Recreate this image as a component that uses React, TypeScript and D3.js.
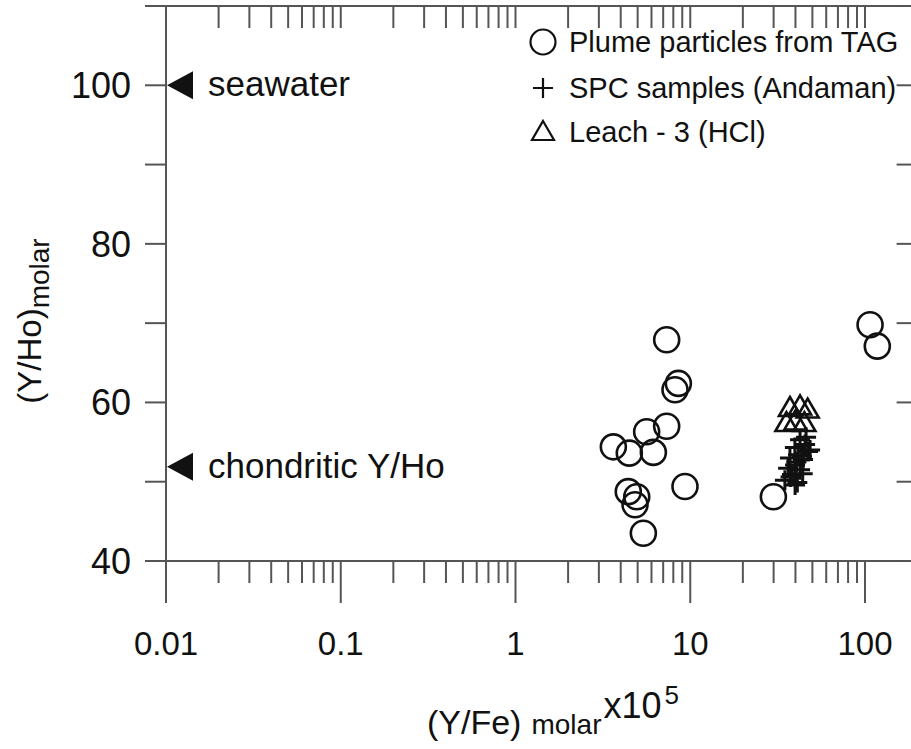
import { useEffect, useRef } from "react";
import * as d3 from "d3";

// Plume particles from TAG (open circles)
const plumeYFe = [7.33, 8.55, 8.18, 7.33, 5.63, 3.63, 4.48, 6.15, 9.33, 4.42, 4.94, 4.83, 5.39, 29.9, 106.9, 117.6];
const plumeYHo = [67.9, 62.4, 61.6, 57.0, 56.3, 54.4, 53.6, 53.7, 49.4, 48.75, 48.1, 47.1, 43.5, 48.1, 69.8, 67.1];

// SPC samples (Andaman) (crosses)
const spcYFe = [42.5, 45.4, 39.7, 47.2, 41.4, 37.2, 44.2, 39.8, 36.3, 42.5, 38.2, 34.8, 39.8, 48.5, 46.0, 43.5, 40.5, 44.0, 37.5, 41.0];
const spcYHo = [55.3, 54.7, 54.3, 53.8, 53.4, 53.0, 52.8, 52.1, 51.7, 51.5, 50.9, 50.2, 49.6, 54.0, 55.6, 53.2, 52.5, 51.0, 50.6, 49.9];

// Leach - 3 (HCl) (open triangles)
const leachYFe = [37.2, 42.5, 47.0, 35.5, 40.0, 45.0];
const leachYHo = [59.3, 59.5, 59.1, 57.4, 57.6, 57.4];

// reference markers on the y axis
const refLabels = ["seawater", "chondritic Y/Ho"];
const refValues = [100, 51.9];

const xTickLabels = ["0.01", "0.1", "1", "10", "100"];
const yTickLabels = ["40", "60", "80", "100"];
const yTickValues = [40, 50, 60, 70, 80, 90, 100, 110];

const legendLabels = ["Plume particles from TAG", "SPC samples (Andaman)", "Leach - 3 (HCl)"];

const FONT = "'Liberation Sans', Arial, Helvetica, sans-serif";
const INK = "#111";
const AXIS = "#555";

const App = () => {
  const ref = useRef<SVGSVGElement | null>(null);
  const width = 911;
  const height = 749;

  useEffect(() => {
    const svg = d3.select(ref.current);
    svg.selectAll("*").remove();

    const left = 166;
    const top = 6;
    const bottom = 561;
    const decade = 174.75;
    const right = left + decade * Math.log10(200 / 0.01);

    const x = d3.scaleLog().domain([0.01, 200]).range([left, right]);
    const y = d3.scaleLinear().domain([40, 110]).range([bottom, top]);

    const g = svg.append("g");

    // frame
    g.append("line").attr("x1", 145).attr("x2", right).attr("y1", top).attr("y2", top);
    g.append("line").attr("x1", 145).attr("x2", right).attr("y1", bottom).attr("y2", bottom);
    g.append("line").attr("x1", left).attr("x2", left).attr("y1", top).attr("y2", bottom);
    g.append("line").attr("x1", right).attr("x2", right).attr("y1", top).attr("y2", bottom);

    // x ticks
    const xt = x.ticks();
    const isMajor = (v: number) => Math.abs(Math.log10(v) - Math.round(Math.log10(v))) < 1e-6;

    g.selectAll("topTicks")
      .data(xt)
      .enter()
      .append("line")
      .attr("x1", (d) => x(d))
      .attr("x2", (d) => x(d))
      .attr("y1", top)
      .attr("y2", top + 22);

    g.selectAll("bottomTicks")
      .data(xt)
      .enter()
      .append("line")
      .attr("x1", (d) => x(d))
      .attr("x2", (d) => x(d))
      .attr("y1", bottom)
      .attr("y2", (d) => (isMajor(d) ? bottom + 42 : bottom + 22));

    // y ticks
    g.selectAll("leftTicks")
      .data(yTickValues)
      .enter()
      .append("line")
      .attr("x1", left - 21)
      .attr("x2", left)
      .attr("y1", (d) => y(d))
      .attr("y2", (d) => y(d));

    g.selectAll("rightTicks")
      .data(yTickValues)
      .enter()
      .append("line")
      .attr("x1", right - 21)
      .attr("x2", right)
      .attr("y1", (d) => y(d))
      .attr("y2", (d) => y(d));

    g.selectAll("line").attr("stroke", AXIS).attr("stroke-width", 2);

    // tick labels
    svg
      .selectAll("xLabels")
      .data(xTickLabels)
      .enter()
      .append("text")
      .attr("x", (d) => x(+d))
      .attr("y", 655)
      .attr("text-anchor", "middle")
      .style("font-family", FONT)
      .style("font-size", "33px")
      .attr("fill", INK)
      .text((d) => d);

    svg
      .selectAll("yLabels")
      .data(yTickLabels)
      .enter()
      .append("text")
      .attr("x", 131)
      .attr("y", (d) => y(+d) + 13)
      .attr("text-anchor", "end")
      .style("font-family", FONT)
      .style("font-size", "36px")
      .attr("fill", INK)
      .text((d) => d);

    // axis titles
    const xTitle = svg
      .append("text")
      .attr("x", 427)
      .attr("y", 734)
      .style("font-family", FONT)
      .attr("fill", INK);
    xTitle.append("tspan").style("font-size", "34px").text("(Y/Fe)");
    xTitle.append("tspan").attr("dx", 10).style("font-size", "28px").text("molar");
    xTitle.append("tspan").attr("y", 718).attr("dx", 2).style("font-size", "36px").text("x10");
    xTitle.append("tspan").attr("y", 704).attr("dx", 3).style("font-size", "26px").text("5");

    const yTitle = svg
      .append("text")
      .attr("transform", "translate(41,321) rotate(-90)")
      .attr("text-anchor", "middle")
      .style("font-family", FONT)
      .attr("fill", INK);
    yTitle.append("tspan").style("font-size", "33px").text("(Y/Ho)");
    yTitle.append("tspan").attr("dy", 8).style("font-size", "28px").text("molar");

    // reference markers
    refValues.forEach((v, i) => {
      const yy = y(v);
      svg
        .append("path")
        .attr("d", `M${left + 1},${yy} L${left + 27},${yy - 14} L${left + 27},${yy + 14} Z`)
        .attr("fill", INK);
      svg
        .append("text")
        .attr("x", 208)
        .attr("y", yy + 11)
        .style("font-family", FONT)
        .style("font-size", "35px")
        .attr("fill", INK)
        .text(refLabels[i]);
    });

    const circlePath = (cx: number, cy: number) =>
      `M${cx + 12.5},${cy} A12.5,12.5 0 1,1 ${cx - 12.5},${cy} A12.5,12.5 0 1,1 ${cx + 12.5},${cy}`;
    const plusPath = (cx: number, cy: number) =>
      `M${cx - 10},${cy} L${cx + 10},${cy} M${cx},${cy - 10} L${cx},${cy + 10}`;
    const triPath = (cx: number, cy: number) =>
      `M${cx},${cy - 11} L${cx + 11},${cy + 8} L${cx - 11},${cy + 8} Z`;

    const marks = svg.append("g").attr("fill", "none").attr("stroke", INK).attr("stroke-width", 2.6);

    marks
      .selectAll("plume")
      .data(plumeYFe)
      .enter()
      .append("path")
      .attr("d", (d, i) => circlePath(x(d), y(plumeYHo[i])));

    marks
      .selectAll("leach")
      .data(leachYFe)
      .enter()
      .append("path")
      .attr("stroke-linejoin", "miter")
      .attr("d", (d, i) => triPath(x(d), y(leachYHo[i])));

    marks
      .selectAll("spc")
      .data(spcYFe)
      .enter()
      .append("path")
      .attr("stroke-width", 3)
      .attr("d", (d, i) => plusPath(x(d), y(spcYHo[i])));

    // legend
    const lx = 543;
    const ly = [42, 88, 132];
    marks.append("path").attr("d", circlePath(lx, ly[0])).attr("stroke-width", 2.2);
    marks.append("path").attr("d", plusPath(lx, ly[1])).attr("stroke-width", 2.2);
    marks.append("path").attr("d", triPath(lx, ly[2])).attr("stroke-width", 2.2);

    svg
      .selectAll("legendText")
      .data(legendLabels)
      .enter()
      .append("text")
      .attr("x", 569)
      .attr("y", (d, i) => ly[i] + 10)
      .style("font-family", FONT)
      .style("font-size", "29px")
      .attr("fill", INK)
      .text((d) => d);
  }, []);

  return (
    <svg
      ref={ref}
      width={width}
      height={height}
      style={{ position: "absolute", left: 0, top: 0, background: "#fff" }}
    />
  );
};

export default App;
